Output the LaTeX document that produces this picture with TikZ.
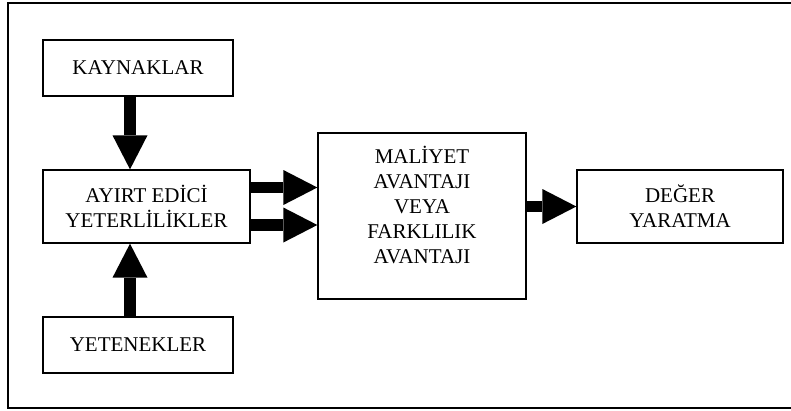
\documentclass[tikz,border=0pt]{standalone}
\usepackage{fontspec}
\setmainfont{Liberation Serif}
\usepackage{tikz}
\usetikzlibrary{arrows.meta,positioning}

\begin{document}
\begin{tikzpicture}[x=1pt, y=-1pt, every node/.style={font=\fontsize{21}{25}\selectfont}, box/.style={draw, line width=1.3pt, align=center, inner sep=0pt}, arr/.style={-{Triangle[width=35pt,length=34pt,line width=0pt]}, line width=11.5pt}]
\useasboundingbox (0,0) rectangle (791,410);
\draw[line width=1.5pt] (8,3) rectangle (800,408);
\node[box, minimum width=190pt, minimum height=56pt] (kaynak) at (138,68) {KAYNAKLAR};
\node[box, minimum width=207pt, minimum height=73pt] (ayirt) at (146.5,206.5) {AYIRT EDİCİ\\YETERLİLİKLER};
\node[box, minimum width=190pt, minimum height=56pt] (yetenek) at (138,345) {YETENEKLER};
\node[box, minimum width=208pt, minimum height=166pt, text depth=22pt] (maliyet) at (422,216) {MALİYET\\AVANTAJI\\VEYA\\FARKLILIK\\AVANTAJI};
\node[box, minimum width=206pt, minimum height=73pt] (deger) at (680,206.5) {DEĞER\\YARATMA};
\draw[arr] ([xshift=-8pt]kaynak.south) -- ([xshift=-8pt]kaynak.south |- ayirt.north);
\draw[arr] ([xshift=-8pt]yetenek.north) -- ([xshift=-8pt]yetenek.north |- ayirt.south);
\draw[arr] ([yshift=19pt]ayirt.east) -- ([yshift=19pt]ayirt.east -| maliyet.west);
\draw[arr] ([yshift=-18.5pt]ayirt.east) -- ([yshift=-18.5pt]ayirt.east -| maliyet.west);
\draw[arr] (maliyet.east |- deger.west) -- (deger.west);
\end{tikzpicture}
\end{document}
